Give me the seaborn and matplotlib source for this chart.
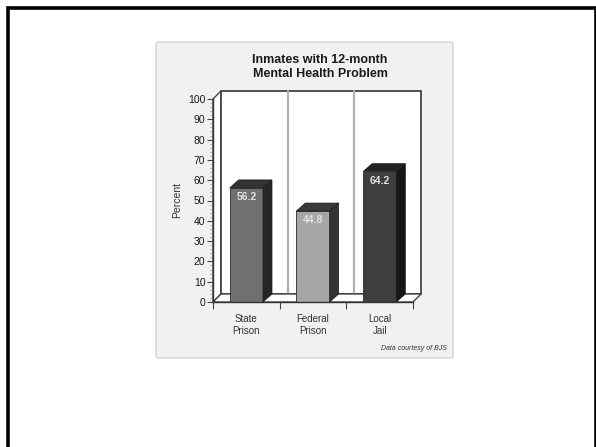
import matplotlib
matplotlib.use("Agg")
import matplotlib.pyplot as plt
from matplotlib.patches import Rectangle, Polygon, FancyBboxPatch
import seaborn as sns
import pandas as pd

# Data
categories = ["State\nPrison", "Federal\nPrison", "Local\nJail"]
percent = [56.2, 44.8, 64.2]
labels = ["56.2", "44.8", "64.2"]
front_colors = ["#707070", "#a6a6a6", "#3e3e3e"]
top_colors = ["#333333", "#3a3a3a", "#222222"]
side_colors = ["#262626", "#333333", "#161616"]
y_ticks = list(range(0, 101, 10))

sns.set_theme(style="white")
plt.rcParams["font.family"] = ["Liberation Sans", "DejaVu Sans"]

W, H = 596, 447
fig = plt.figure(figsize=(W / 100, H / 100), dpi=100)
fig.patch.set_facecolor("white")

def fx(px):
    return px / W

def fy(py):
    return 1 - py / H

# slide frame
fig.add_artist(Rectangle((fx(8), fy(460)), fx(588), fy(8) - fy(460),
                         transform=fig.transFigure, fill=False,
                         edgecolor="black", linewidth=2.6, zorder=-10))
# chart card
fig.add_artist(FancyBboxPatch((fx(156), fy(358)), fx(297), fy(42) - fy(358),
                              boxstyle="round,pad=0,rounding_size=0.004",
                              transform=fig.transFigure, facecolor="#f1f1f1",
                              edgecolor="#d4d4d4", linewidth=1.0, zorder=-9))

fig.text(fx(320), fy(67), "Inmates with 12-month\nMental Health Problem",
         ha="center", va="center", fontsize=9, fontweight="bold",
         color="#1a1a1a", linespacing=1.25)

# plotting area: front x-axis 213..413 px, y 0 at 302 px, 100 at 99 px
ax = fig.add_axes([fx(213), fy(302), fx(413) - fx(213), fy(99) - fy(302)])
ax.set_facecolor("none")

df = pd.DataFrame({"category": categories, "percent": percent})
sns.barplot(data=df, x="category", y="percent", hue="category",
            palette=front_colors, width=0.5, ax=ax, legend=False,
            saturation=1, edgecolor="#2a2a2a", linewidth=0.6, zorder=2)
bars = [b for c in ax.containers for b in c]

ax.set_xlim(-0.5, 2.5)
ax.set_ylim(0, 100)

px_x = 200 / 3.0
px_y = 203 / 100.0
dx = 8 / px_x
dy = 8 / px_y

# back wall, side wall, floor
ax.add_patch(Polygon([(-0.5, 0), (-0.5, 100), (-0.5 + dx, 100 + dy), (-0.5 + dx, dy)],
                     closed=True, facecolor="white", edgecolor="#444444",
                     linewidth=1.0, clip_on=False, zorder=0.5))
ax.add_patch(Rectangle((-0.5 + dx, dy), 3, 100, facecolor="white",
                       edgecolor="#444444", linewidth=1.3, clip_on=False, zorder=0.6))
for b in (0.5, 1.5):
    ax.plot([b + dx, b + dx], [dy, 100 + dy], color="#b0b0b0", linewidth=1.6,
            clip_on=False, zorder=0.7)
ax.add_patch(Polygon([(-0.5, 0), (2.5, 0), (2.5 + dx, dy), (-0.5 + dx, dy)],
                     closed=True, facecolor="white", edgecolor="#444444",
                     linewidth=1.0, clip_on=False, zorder=0.8))

for patch, top_c, side_c, txt in zip(bars, top_colors, side_colors, labels):
    x0 = patch.get_x()
    w = patch.get_width()
    h = patch.get_height()
    x1 = x0 + w
    bdx = 9 / px_x
    ax.add_patch(Polygon([(x0, h), (x1, h), (x1 + bdx, h + dy), (x0 + bdx, h + dy)],
                         closed=True, facecolor=top_c, edgecolor="#1a1a1a",
                         linewidth=0.5, clip_on=False, zorder=2.1))
    ax.add_patch(Polygon([(x1, 0), (x1, h), (x1 + bdx, h + dy), (x1 + bdx, dy)],
                         closed=True, facecolor=side_c, edgecolor="#1a1a1a",
                         linewidth=0.5, clip_on=False, zorder=2.1))
    ax.annotate(txt, (x0 + w / 2, h), xytext=(0, -6.5), textcoords="offset points",
                ha="center", va="center", fontsize=7.5, fontweight="bold",
                color="#e2e2e2", zorder=3)

# axes styling
for s in ("top", "right"):
    ax.spines[s].set_visible(False)
for s in ("left", "bottom"):
    ax.spines[s].set_visible(True)
    ax.spines[s].set_color("#333333")
    ax.spines[s].set_linewidth(1.0)
ax.set_yticks(y_ticks)
ax.set_yticks(range(0, 101, 2), minor=True)
ax.tick_params(axis="y", which="major", direction="out", length=4, width=0.8,
               color="#444444", labelsize=7.5, labelcolor="#1a1a1a", pad=1.5, left=True)
ax.tick_params(axis="y", which="minor", direction="out", length=2, width=0.5,
               color="#888888", left=True)
ax.set_xticks([0, 1, 2])
ax.set_xticks([-0.5, 0.5, 1.5, 2.5], minor=True)
ax.set_xticklabels(categories)
ax.tick_params(axis="x", which="major", length=0, labelsize=7, labelcolor="#333333", pad=9)
ax.tick_params(axis="x", which="minor", direction="out", length=5, width=0.8,
               color="#444444", bottom=True)
for t in ax.get_xticklabels():
    t.set_linespacing(1.25)
ax.set_xlabel("")
ax.set_ylabel("Percent", fontsize=7.5, color="#333333", labelpad=4)

fig.text(fx(447), fy(349), "Data courtesy of BJS", ha="right", va="center",
         fontsize=5, style="italic", color="#333333")

fig.savefig("out.png", dpi=100)
